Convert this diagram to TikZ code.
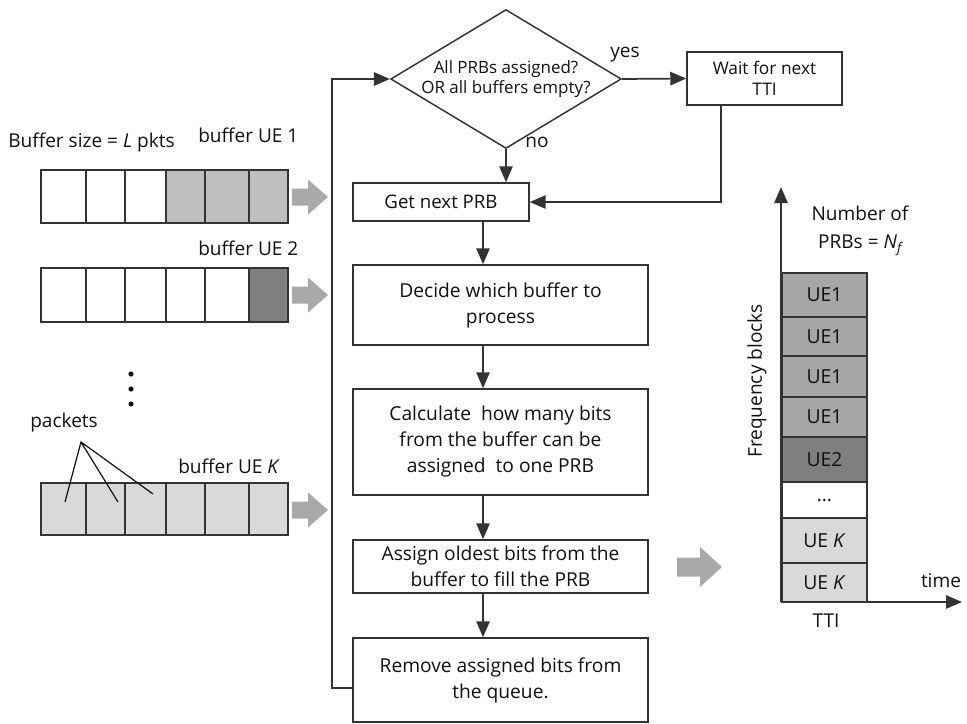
\documentclass[tikz,border=0pt]{standalone}
\usepackage{fontspec}
\setmainfont{Open Sans}
\usetikzlibrary{shapes.geometric,arrows.meta,calc}

\definecolor{ink}{HTML}{111111}
\definecolor{edge}{HTML}{333333}
\definecolor{lightfill}{HTML}{D9D9D9}
\definecolor{midfill}{HTML}{BFBFBF}
\definecolor{stackfill}{HTML}{A6A6A6}
\definecolor{darkfill}{HTML}{7F7F7F}
\definecolor{fatgray}{HTML}{A9A9A9}

\tikzset{
  arr/.style={draw=edge, line width=1.3pt, -{Triangle[length=12pt,width=10pt]}},
  procbox/.style={draw=edge, line width=1.1pt, fill=white, rectangle, inner sep=0pt,
    align=center, text=ink, font=\fontsize{14.4}{19.5}\selectfont},
  smallbox/.style={procbox, font=\fontsize{13}{16}\selectfont},
  decision/.style={draw=edge, line width=1.1pt, diamond, shape aspect=1.66, inner sep=0pt,
    align=center, text=ink, minimum width=169.5pt, minimum height=102pt,
    font=\fontsize{12.7}{15}\selectfont},
  lbl/.style={text=ink, inner sep=0pt, font=\fontsize{14.3}{16}\selectfont},
  cell/.style={draw=edge, line width=1.1pt},
  stackcell/.style={draw=edge, line width=1.1pt, rectangle, inner sep=0pt,
    minimum width=63.75pt, text=ink, font=\fontsize{14.5}{16}\selectfont},
  fat arrow/.pic={\fill[fatgray] (0,-8.5) -- (16,-8.5) -- (16,-17.5) -- (36,0)
    -- (16,17.5) -- (16,8.5) -- (0,8.5) -- cycle;},
  big fat arrow/.pic={\fill[fatgray] (0,-9.5) -- (23,-9.5) -- (23,-20) -- (45,0)
    -- (23,20) -- (23,9.5) -- (0,9.5) -- cycle;}
}

\begin{document}
\begin{tikzpicture}[x=0.75pt,y=-0.75pt]
\useasboundingbox (0,0) rectangle (967,724);

% ---------------- buffers (six packet slots each) ----------------
\foreach \xa/\xb/\fa/\fb/\fc in {41/86/white/white/lightfill, 86/125/white/white/lightfill,
    125/166/white/white/lightfill, 166/205/midfill/white/lightfill,
    205/249/midfill/white/lightfill, 249/288/midfill/darkfill/lightfill}{
  \filldraw[cell, fill=\fa] (\xa,170) rectangle (\xb,223);
  \filldraw[cell, fill=\fb] (\xa,268) rectangle (\xb,322);
  \filldraw[cell, fill=\fc] (\xa,483) rectangle (\xb,535);
}

\node[lbl, anchor=west] (bsize) at (8,142) {Buffer size = \textit{L} pkts};
\node[lbl, anchor=west] (b1) at (198,135) {buffer UE 1};
\node[lbl, anchor=west] (b2) at (198,248) {buffer UE 2};
\node[lbl, anchor=west] (bk) at (178,466) {buffer UE \textit{K}};
\node[lbl, anchor=west] (pk) at (30,423) {packets};

\foreach \yy in {374,389,404} \fill[ink] (131,\yy) circle (2.6);

\coordinate (apex) at (81,442);
\coordinate (p1) at (65,502);
\coordinate (p2) at (118,502);
\coordinate (p3) at (153,494);
\draw[ink, line width=0.9pt] (p1) -- (apex) -- (p2) (apex) -- (p3);

\pic at (292,197) {fat arrow};
\pic at (292,295) {fat arrow};
\pic at (292,510) {fat arrow};
\pic at (677,567) {big fat arrow};

% ---------------- flowchart ----------------
\node[decision] (dia) at (506,79) {All PRBs assigned?\\OR all buffers empty?};
\node[smallbox, minimum width=116.25pt, minimum height=39.75pt] (wait) at (764.5,78.5) {Wait for next\\TTI};
\node[smallbox, font=\fontsize{14}{16}\selectfont, minimum width=132pt, minimum height=28.5pt] (getnext) at (441,202) {Get next PRB};
\node[procbox, minimum width=221.25pt, minimum height=60pt] (decide) at (500.5,305) {Decide which buffer to\\process};
\node[procbox, minimum width=221.25pt, minimum height=79.5pt] (calc) at (500.5,442) {Calculate\ \ how many bits\\from the buffer can be\\assigned\ \ to one PRB};
\node[procbox, minimum width=221.25pt, minimum height=39.75pt] (assign) at (500.5,566.5) {Assign oldest bits from the\\buffer to fill the PRB};
\node[procbox, minimum width=221.25pt, minimum height=63pt] (remove) at (500.5,680) {Remove assigned bits from\\the queue.};

\node[lbl] (yes) at (625,55) {yes};
\node[lbl] (no) at (537,142) {no};

\draw[arr] (dia.east) -- (wait.west);
\draw[arr] (dia.south) -- (dia.south |- getnext.north);
\draw[arr] ([xshift=-32.6pt]wait.south) |- (getnext.east);
\draw[arr] (getnext.south -| 483,0) -- (decide.north -| 483,0);
\draw[arr] (decide.south -| 483,0) -- (calc.north -| 483,0);
\draw[arr] (calc.south -| 483,0) -- (assign.north -| 483,0);
\draw[arr] (assign.south -| 483,0) -- (remove.north -| 483,0);
\draw[arr] ([yshift=-6pt]remove.west) -- ++(-20,0) |- (dia.west);

% ---------------- PRB allocation chart ----------------
\coordinate (origin) at (781,602);
\coordinate (ytip) at (781,187);
\coordinate (xtip) at (962,602);

\foreach \ya/\yb/\f/\t [count=\k] in {273/317/stackfill/UE1, 317/356/stackfill/UE1,
    356/397/stackfill/UE1, 397/437/stackfill/UE1, 437/482/darkfill/UE2,
    482/518/white/\ldots, 518/563/lightfill/UE \textit{K}, 563/602/lightfill/UE \textit{K}}{
  \pgfmathsetmacro{\hh}{(\yb-\ya)*0.75}
  \node[stackcell, fill=\f, minimum height=\hh pt] (s\k) at (824.5,{(\ya+\yb)/2}) {\t};
}

\draw[arr] (origin) -- (ytip);
\draw[arr] (origin) -- (xtip);

\node[lbl, align=center, font=\fontsize{14.3}{21}\selectfont] (nprb) at (860,231) {Number of\\PRBs = \textit{N\textsubscript{f}}};
\node[lbl, rotate=90] (freq) at (757,381) {Frequency blocks};
\node[lbl] (time) at (941,581) {time};
\node[lbl] (tti) at (826,621) {TTI};
\end{tikzpicture}
\end{document}
